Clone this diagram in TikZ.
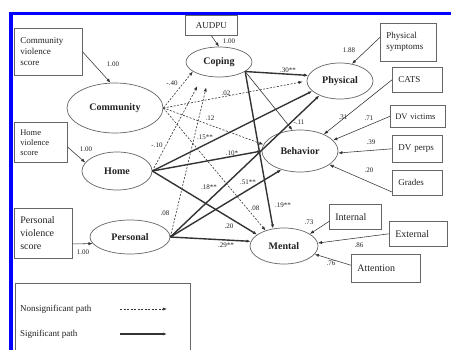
\documentclass[tikz,border=0pt]{standalone}
\usepackage{fontspec}
\setmainfont{Liberation Serif}
\usetikzlibrary{shapes.geometric,arrows.meta}
\definecolor{ln}{HTML}{333333}
\definecolor{bx}{HTML}{666666}
\definecolor{tx}{HTML}{222222}
\definecolor{frameblue}{RGB}{0,0,255}
\begin{document}
\begin{tikzpicture}[x=1pt,y=-1pt,
  box/.style={draw=bx, line width=0.6pt, rectangle, anchor=north west, inner xsep=6pt, inner ysep=1pt, align=left, text=tx, font=\fontsize{9}{11}\selectfont},
  lat/.style={draw=bx, line width=0.7pt, ellipse, inner sep=0pt, text=tx, font=\bfseries\fontsize{10}{12}\selectfont},
  lab/.style={text=tx, inner sep=0.5pt, font=\fontsize{7}{8}\selectfont},
  legtext/.style={text=tx, inner sep=0pt, anchor=west, font=\fontsize{9}{11}\selectfont},
  tip/.style={-{Latex[length=4.2pt,width=3.2pt]}},
  ind/.style={tip, draw=ln, line width=0.55pt},
  ns/.style={tip, draw=ln, line width=0.6pt, dash pattern=on 2pt off 1.5pt},
  sig/.style={tip, draw=ln, line width=1.4pt},
  thinpath/.style={tip, draw=ln, line width=0.6pt},
]
\useasboundingbox (0,0) rectangle (451,349);
\fill[white] (0,0) rectangle (451,349);
\begin{scope}
\clip (0,0) rectangle (451,349);
% frame
\draw[frameblue, line width=3.5pt] (11,352) -- (11,13.5) -- (455,13.5);

% measurement boxes
\node[box, minimum width=68pt, minimum height=47pt, text width=56pt] (CVS) at (14,28) {Community\\violence\\score};
\node[box, minimum width=53pt, minimum height=40pt, text width=41pt, font=\fontsize{8.5}{10}\selectfont] (HVS) at (14,122) {Home\\violence\\score};
\node[box, minimum width=58pt, minimum height=50pt, text width=46pt, font=\fontsize{10}{13}\selectfont] (PVS) at (14,208) {Personal\\violence\\score};
\node[box, minimum width=52pt, minimum height=20pt, text width=40pt, align=center] (AUD) at (185,15) {AUDPU};
\node[box, minimum width=56pt, minimum height=38pt, text width=44pt] (PS) at (380,23) {Physical\\symptoms};
\node[box, minimum width=50pt, minimum height=25pt, text width=38pt] (CATS) at (392,67) {CATS};
\node[box, minimum width=55pt, minimum height=22pt, text width=45pt, inner xsep=5pt, font=\fontsize{8.5}{10}\selectfont] (DVV) at (390,105) {DV victims};
\node[box, minimum width=50pt, minimum height=27pt, text width=38pt] (DVP) at (392,135) {DV perps};
\node[box, minimum width=50pt, minimum height=25pt, text width=38pt] (GR) at (392,170) {Grades};
\node[box, minimum width=52pt, minimum height=25pt, text width=40pt, font=\fontsize{10}{12}\selectfont] (INT) at (329,204) {Internal};
\node[box, minimum width=58pt, minimum height=25pt, text width=46pt, font=\fontsize{10}{12}\selectfont] (EXT) at (389,221) {External};
\node[box, minimum width=69pt, minimum height=28pt, text width=57pt, font=\fontsize{10}{12}\selectfont] (ATT) at (351,254) {Attention};

% latent variables
\node[lat, minimum width=96pt, minimum height=50pt] (Com) at (115,108) {Community};
\node[lat, minimum width=66pt, minimum height=30pt] (Cop) at (219,62) {Coping};
\node[lat, minimum width=66pt, minimum height=36pt] (Phys) at (340,81) {Physical};
\node[lat, minimum width=76pt, minimum height=42pt] (Beh) at (300,151) {Behavior};
\node[lat, minimum width=68pt, minimum height=36pt] (Men) at (284,246) {Mental};
\node[lat, minimum width=70pt, minimum height=38pt] (Home) at (117,171) {Home};
\node[lat, minimum width=80pt, minimum height=34pt] (Per) at (130,237) {Personal};

% measurement paths
\draw[ind] (CVS.east) -- (Com.100);
\draw[ind] (HVS.-10) -- (Home.165);
\draw[ind] (PVS.-20) -- (Per.190);
\draw[ind] (AUD.south) -- (Cop.north);
\draw[ind] (PS.170) -- (Phys.55);
\draw[ind] (CATS.west) -- (Beh.35);
\draw[ind] (DVV.west) -- (Beh.18);
\draw[ind] (DVP.west) -- (Beh.-3);
\draw[ind] (GR.200) -- (Beh.-25);
\draw[ind] (INT.190) -- (Men.25);
\draw[ind] (EXT.west) -- (Men.5);
\draw[ind] (ATT.175) -- (Men.-15);

% structural paths
\draw[ns] (Com.east) -- (Cop.200);
\draw[ns, shorten >=4pt] (Com.east) -- (Phys.west);
\draw[ns] (Com.east) -- (Beh.170);
\draw[ns] (Com.east) -- (Men.140);
\draw[ns, shorten >=12pt] (Home.east) -- (Cop.220);
\draw[ns, shorten >=11pt] (Per.east) -- (Cop.235);

\draw[sig] (Cop.-20) -- (Phys.170);
\draw[thinpath] (Cop.-20) -- (Beh.110);
\draw[sig] (Cop.-20) -- (Men.122);

\draw[sig] (Home.east) -- (Phys.200);
\draw[sig] (Home.east) -- (Beh.west);
\draw[sig] (Home.east) -- (Men.157);
\draw[sig] (Per.east) -- (Phys.215);
\draw[sig] (Per.east) -- (Beh.225);
\draw[sig] (Per.east) -- (Men.172);

% labels
\node[lab] (l1) at (113,64) {1.00};
\node[lab] (l2) at (86,149) {1.00};
\node[lab] (l3) at (83,252) {1.00};
\node[lab] (l4) at (229,41) {1.00};
\node[lab] (l5) at (349,50) {1.88};
\node[lab] (l6) at (343,117) {.31};
\node[lab] (l7) at (369,118) {.71};
\node[lab] (l8) at (371,142) {.39};
\node[lab] (l9) at (369,170) {.20};
\node[lab] (l10) at (309,222) {.73};
\node[lab] (l11) at (359,245) {.86};
\node[lab] (l12) at (331,263) {.76};
\node[lab] (l13) at (172,83) {-.40};
\node[lab] (l14) at (288,70) {.30**};
\node[lab] (l15) at (226,93) {.02};
\node[lab] (l16) at (210,118) {.12};
\node[lab] (l17) at (157,145) {-.10};
\node[lab] (l18) at (205,137) {.15**};
\node[lab] (l19) at (299,122) {-.11};
\node[lab] (l20) at (232,153) {.10*};
\node[lab] (l21) at (209,187) {.18**};
\node[lab] (l22) at (248,182) {.51**};
\node[lab] (l23) at (255,208) {.08};
\node[lab] (l24) at (283,205) {.19**};
\node[lab] (l25) at (165,213) {.08};
\node[lab] (l26) at (229,226) {.20};
\node[lab] (l27) at (226,245) {.29**};

% legend
\draw[draw=bx, line width=0.6pt] (15,283) rectangle (190,370);
\node[legtext] (nst) at (20,309) {Nonsignificant path};
\node[legtext] (sgt) at (20,334) {Significant path};
\coordinate (ns1) at (120,309);
\coordinate (ns2) at (167,309);
\coordinate (sg1) at (120,334);
\coordinate (sg2) at (167,334);
\draw[ns] (ns1) -- (ns2);
\draw[tip, draw=ln, line width=1.1pt] (sg1) -- (sg2);
\end{scope}
\end{tikzpicture}
\end{document}
